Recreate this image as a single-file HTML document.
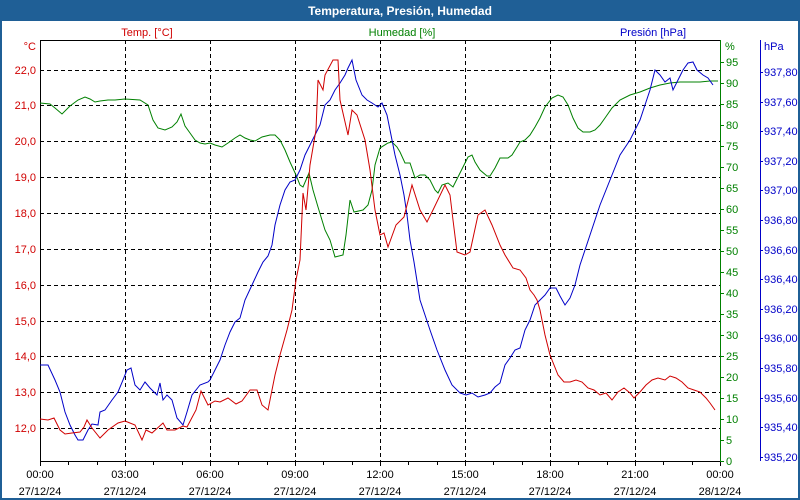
<!DOCTYPE html>
<html><head><meta charset="utf-8"><style>
body{margin:0;background:#1f5f96;}
svg{display:block;font-family:"Liberation Sans",sans-serif;}
</style></head><body>
<svg width="800" height="500" xmlns="http://www.w3.org/2000/svg">
<rect x="0" y="0" width="800" height="500" fill="#1f5f96"/>
<rect x="2" y="21" width="796" height="477" fill="#fff"/>
<text x="400" y="15" fill="#fff" font-size="12" font-weight="bold" text-anchor="middle">Temperatura, Presión, Humedad</text>
<g font-size="11">
<text x="147" y="36" fill="#d00000" text-anchor="middle">Temp. [°C]</text>
<text x="402" y="36" fill="#008000" text-anchor="middle">Humedad [%]</text>
<text x="653" y="36" fill="#0000c8" text-anchor="middle">Presión [hPa]</text>
<text x="36" y="50" fill="#d00000" text-anchor="end">°C</text>
<text x="725" y="50" fill="#008000">%</text>
<text x="764" y="50" fill="#0000c8">hPa</text>
</g>
<g stroke="#000" stroke-dasharray="4,3" stroke-width="1">
<path d="M125.5 40V461M210.5 40V461M295.5 40V461M380.5 40V461M465.5 40V461M550.5 40V461M635.5 40V461"/>
<path d="M40 70.5H720M40 105.5H720M40 141.5H720M40 177.5H720M40 213.5H720M40 249.5H720M40 285.5H720M40 321.5H720M40 356.5H720M40 392.5H720M40 428.5H720"/>
</g>
<path d="M40.5 461V40.5H720" fill="none" stroke="#000"/>
<path d="M40 461.5H720" stroke="#000"/>
<path d="M40.5 461v5M68.5 461v4M97.5 461v4M125.5 461v5M153.5 461v4M182.5 461v4M210.5 461v5M238.5 461v4M267.5 461v4M295.5 461v5M323.5 461v4M352.5 461v4M380.5 461v5M408.5 461v4M437.5 461v4M465.5 461v5M493.5 461v4M522.5 461v4M550.5 461v5M578.5 461v4M607.5 461v4M635.5 461v5M663.5 461v4M692.5 461v4M720.5 461v5" stroke="#000"/>
<g font-size="11" fill="#000" text-anchor="middle">
<text x="40" y="478">00:00</text><text x="40" y="495">27/12/24</text>
<text x="125" y="478">03:00</text><text x="125" y="495">27/12/24</text>
<text x="210" y="478">06:00</text><text x="210" y="495">27/12/24</text>
<text x="295" y="478">09:00</text><text x="295" y="495">27/12/24</text>
<text x="380" y="478">12:00</text><text x="380" y="495">27/12/24</text>
<text x="465" y="478">15:00</text><text x="465" y="495">27/12/24</text>
<text x="550" y="478">18:00</text><text x="550" y="495">27/12/24</text>
<text x="635" y="478">21:00</text><text x="635" y="495">27/12/24</text>
<text x="720" y="478">00:00</text><text x="720" y="495">28/12/24</text>
</g>
<g font-size="11" fill="#d00000" text-anchor="end">
<text x="36" y="74">22,0</text><text x="36" y="145">20,0</text><text x="36" y="109">21,0</text>
<text x="36" y="181">19,0</text><text x="36" y="217">18,0</text><text x="36" y="253">17,0</text>
<text x="36" y="289">16,0</text><text x="36" y="325">15,0</text><text x="36" y="360">14,0</text>
<text x="36" y="396">13,0</text><text x="36" y="432">12,0</text>
</g>
<path d="M720.5 40V461" stroke="#008000"/>
<g stroke="#008000"><path d="M720 62.5h4M720 83.5h4M720 104.5h4M720 125.5h4M720 146.5h4M720 167.5h4M720 188.5h4M720 209.5h4M720 230.5h4M720 251.5h4M720 272.5h4M720 293.5h4M720 314.5h4M720 335.5h4M720 356.5h4M720 377.5h4M720 398.5h4M720 419.5h4M720 440.5h4M720 461.5h4"/></g>
<g font-size="11" fill="#008000">
<text x="726" y="66">95</text><text x="726" y="87">90</text><text x="726" y="108">85</text><text x="726" y="129">80</text>
<text x="726" y="150">75</text><text x="726" y="171">70</text><text x="726" y="192">65</text><text x="726" y="213">60</text>
<text x="726" y="234">55</text><text x="726" y="255">50</text><text x="726" y="276">45</text><text x="726" y="297">40</text>
<text x="726" y="318">35</text><text x="726" y="339">30</text><text x="726" y="360">25</text><text x="726" y="381">20</text>
<text x="726" y="402">15</text><text x="726" y="423">10</text><text x="726" y="444">5</text><text x="726" y="465">0</text>
</g>
<path d="M760.5 40V461" stroke="#0000c8"/>
<g stroke="#0000c8"><path d="M760 72.5h3M760 102.5h3M760 131.5h3M760 161.5h3M760 190.5h3M760 220.5h3M760 250.5h3M760 279.5h3M760 309.5h3M760 338.5h3M760 368.5h3M760 398.5h3M760 427.5h3M760 457.5h3"/></g>
<g font-size="11" fill="#0000c8">
<text x="764" y="76">937,80</text><text x="764" y="106">937,60</text><text x="764" y="135">937,40</text>
<text x="764" y="165">937,20</text><text x="764" y="194">937,00</text><text x="764" y="224">936,80</text>
<text x="764" y="254">936,60</text><text x="764" y="283">936,40</text><text x="764" y="313">936,20</text>
<text x="764" y="342">936,00</text><text x="764" y="372">935,80</text><text x="764" y="402">935,60</text>
<text x="764" y="431">935,40</text><text x="764" y="461">935,20</text>
</g>
<polyline fill="none" stroke="#008000" stroke-width="1" points="40,103 50,104 55,108 62,114 70,106 78,100 85,97 90,99 95,102 100,101 108,100 115,100 125,99 140,100 148,105 153,120 158,128 165,130 172,127 177,122 181,114 185,126 190,133 195,140 200,143 205,144 210,143 215,145 222,147 228,143 235,138 240,135 245,138 250,140 255,141 262,137 270,135 275,135 280,140 285,150 290,162 296,175 300,185 303,187 306,180 309,173 313,190 318,207 325,230 330,240 335,257 343,255 346,235 350,200 354,212 363,210 368,205 372,190 375,165 380,148 388,143 392,142 397,147 400,152 405,163 410,163 415,178 420,175 425,175 430,180 435,190 438,193 442,185 448,183 453,187 460,173 468,157 472,155 475,162 480,170 487,176 490,176 495,168 500,158 508,158 512,155 517,147 520,142 525,140 530,135 535,127 540,118 545,107 552,98 558,95 563,97 568,105 573,118 578,128 583,132 590,132 595,130 600,125 605,118 612,108 620,100 630,95 640,92 650,88 660,85 670,83 680,82 690,82 700,82 710,81 718,81"/>
<polyline fill="none" stroke="#0000c8" stroke-width="1" points="40,365 48,365 55,380 60,392 65,412 70,425 75,435 78,440 83,440 88,430 92,424 98,425 100,412 105,410 112,400 118,392 123,380 127,370 131,368 135,385 140,390 145,382 150,388 157,395 160,383 163,400 167,395 172,400 177,418 183,425 187,412 192,395 200,385 208,382 210,380 215,370 220,360 225,345 230,332 235,322 240,318 245,300 252,285 258,272 263,262 268,256 272,245 275,225 280,205 285,190 290,182 295,180 300,170 305,155 310,145 315,135 320,125 325,105 330,100 335,90 340,83 345,75 348,68 352,60 356,80 362,95 367,100 372,103 378,107 382,103 387,115 390,130 395,155 400,175 404,195 407,215 410,240 414,262 420,300 425,315 430,330 437,350 445,370 452,385 460,393 466,395 472,393 478,397 485,395 490,393 495,387 500,383 505,365 510,358 515,350 520,348 525,330 530,320 535,305 540,300 545,295 550,288 556,288 560,296 565,305 570,298 575,285 580,265 590,235 600,205 610,180 620,155 630,140 640,120 645,105 650,90 655,70 660,75 665,82 670,78 673,90 678,80 683,70 688,63 693,62 697,70 703,75 708,78 713,85"/>
<polyline fill="none" stroke="#d00000" stroke-width="1" points="40,419 48,420 54,418 60,430 65,434 72,433 80,432 84,427 87,420 92,428 100,438 108,430 118,423 125,421 135,425 142,440 146,430 152,433 163,423 167,430 175,430 183,426 187,427 196,410 201,391 208,405 215,401 220,402 228,398 236,404 242,401 250,390 257,390 262,405 268,410 275,375 280,355 287,330 292,310 296,280 300,260 303,193 306,210 310,165 316,130 318,80 323,90 325,75 333,60 338,60 340,100 348,135 352,110 357,115 365,140 370,170 375,210 380,235 384,233 388,247 396,225 404,217 412,185 420,210 427,222 433,210 445,185 450,195 453,220 457,252 465,255 470,252 478,215 485,210 492,225 500,245 505,255 513,268 520,270 526,278 530,290 534,295 537,300 540,310 545,335 550,355 554,365 558,375 564,382 570,382 576,380 582,382 588,388 594,390 600,395 606,393 612,400 618,392 624,388 630,393 634,398 640,392 646,385 652,380 658,378 665,380 670,376 676,378 682,382 688,388 694,390 700,392 706,398 710,403 715,410"/>
</svg>
</body></html>
